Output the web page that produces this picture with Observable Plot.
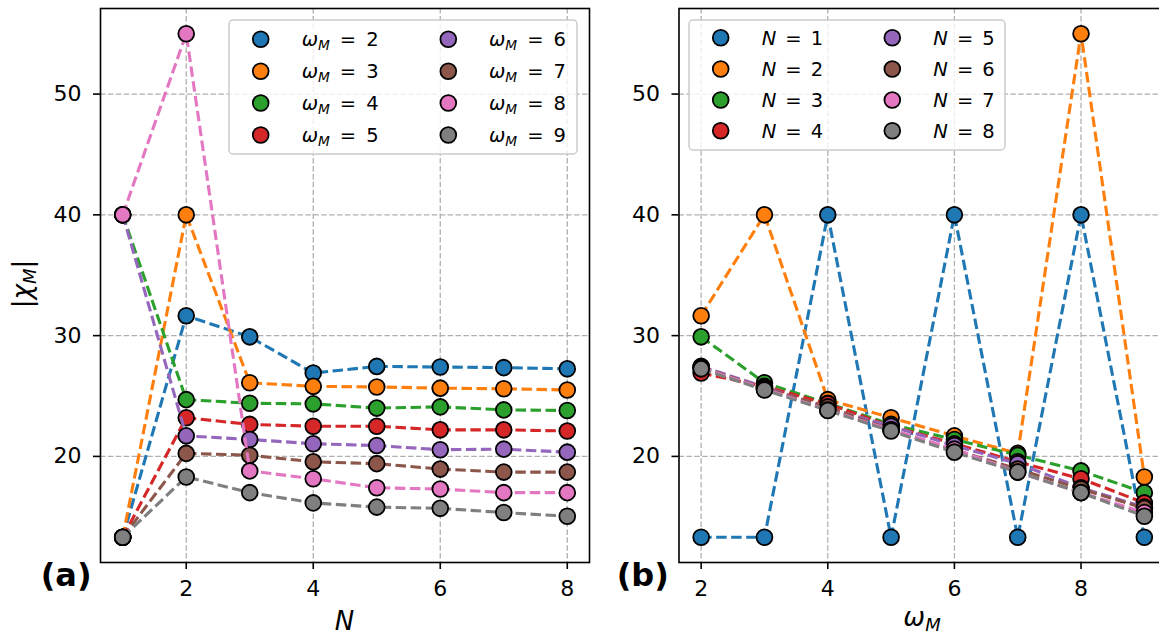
<!DOCTYPE html>
<html><head><meta charset="utf-8">
<script src="https://cdn.jsdelivr.net/npm/d3@7"></script>
<script src="https://cdn.jsdelivr.net/npm/@observablehq/plot@0.6"></script>
<style>
html,body{margin:0;padding:0;overflow:hidden;background:#fff;}
#fig{position:relative;width:1159px;height:637px;overflow:hidden;font-family:"DejaVu Sans";background:#fff;}
#fig > svg{position:absolute;top:0;}
</style></head><body><div id="fig"></div>
<script>
// ---- data ----
const N_VALUES = [1, 2, 3, 4, 5, 6, 7, 8];
const OMEGA_VALUES = [2, 3, 4, 5, 6, 7, 8, 9];
// |chi_M| for each omega_M, indexed by N = 1..8
const chi_w2 = [13.3, 31.65, 29.9, 26.9, 27.45, 27.4, 27.35, 27.25];
const chi_w3 = [13.3, 40.0, 26.1, 25.8, 25.75, 25.65, 25.6, 25.5];
const chi_w4 = [40.0, 24.7, 24.4, 24.35, 24.0, 24.1, 23.85, 23.8];
const chi_w5 = [13.3, 23.2, 22.65, 22.5, 22.5, 22.2, 22.2, 22.1];
const chi_w6 = [40.0, 21.7, 21.4, 21.05, 20.9, 20.55, 20.6, 20.35];
const chi_w7 = [13.3, 20.25, 20.1, 19.55, 19.4, 18.95, 18.7, 18.7];
const chi_w8 = [40.0, 55.0, 18.8, 18.15, 17.4, 17.3, 17.0, 17.0];
const chi_w9 = [13.3, 18.3, 17.0, 16.15, 15.8, 15.7, 15.35, 15.05];
const SERIES_COLORS = ["#1f77b4", "#ff7f0e", "#2ca02c", "#d62728", "#9467bd", "#8c564b", "#e377c2", "#7f7f7f"];
const X_TICKS = [2, 4, 6, 8];
const Y_TICKS = [20, 30, 40, 50];

const chiByOmega = [chi_w2, chi_w3, chi_w4, chi_w5, chi_w6, chi_w7, chi_w8, chi_w9];
const table = [];
OMEGA_VALUES.forEach((w, i) => N_VALUES.forEach((n, j) => table.push({omega: w, N: n, chi: chiByOmega[i][j]})));

const allChi = table.map(d => d.chi);
const yMin = d3.min(allChi), yMax = d3.max(allChi), yPad = (yMax - yMin) * 0.05;
const Y_DOMAIN = [yMin - yPad, yMax + yPad];

function panel({x, series, seriesValues, xValues, width, marginLeft, marginRight}) {
  const xPad = (d3.max(xValues) - d3.min(xValues)) * 0.05;
  const gridStyle = {stroke: "#b0b0b0", strokeOpacity: 1, strokeWidth: 1.3, strokeDasharray: "5.5,2.4"};
  const marks = [Plot.gridX(X_TICKS, gridStyle), Plot.gridY(Y_TICKS, gridStyle)];
  seriesValues.forEach((s, k) => {
    const data = table.filter(d => d[series] === s).sort((a, b) => a[x] - b[x]);
    marks.push(Plot.line(data, {x, y: "chi", stroke: SERIES_COLORS[k], strokeWidth: 3.1,
      strokeDasharray: "10.5,4.5", strokeLinecap: "butt", strokeLinejoin: "round"}));
    marks.push(Plot.dot(data, {x, y: "chi", r: 7.9, fill: SERIES_COLORS[k], stroke: "black", strokeWidth: 1.8}));
  });
  marks.push(Plot.frame({stroke: "black", strokeWidth: 1.6}));
  marks.push(Plot.axisX(X_TICKS, {tickSize: 7, tickPadding: 11, label: null, strokeWidth: 1.6, fontSize: 22}));
  marks.push(Plot.axisY(Y_TICKS, {tickSize: 7, tickPadding: 12, label: null, strokeWidth: 1.6, fontSize: 22}));
  return Plot.plot({
    width, height: 637, marginLeft, marginRight, marginTop: 8, marginBottom: 75,
    x: {domain: [d3.min(xValues) - xPad, d3.max(xValues) + xPad]},
    y: {domain: Y_DOMAIN},
    style: {fontFamily: "DejaVu Sans", fontSize: "22px", color: "black", background: "transparent", overflow: "visible"},
    marks
  });
}

const fig = document.getElementById("fig");
const left = panel({x: "N", series: "omega", seriesValues: OMEGA_VALUES, xValues: N_VALUES, width: 600, marginLeft: 100, marginRight: 11});
left.style.left = "0px";
fig.appendChild(left);
const right = panel({x: "omega", series: "N", seriesValues: N_VALUES, xValues: OMEGA_VALUES, width: 580, marginLeft: 78.5, marginRight: 14});
right.style.left = "600px";
fig.appendChild(right);

// ---- overlay: legends and labels ----
const ov = d3.select(fig).append("svg")
  .attr("width", 1159).attr("height", 637)
  .style("left", "0px").style("position", "absolute").style("top", "0px")
  .attr("font-family", "DejaVu Sans");

function legend(box, cols, rows, labelFn, values) {
  ov.append("rect").attr("x", box[0]).attr("y", box[1]).attr("width", box[2] - box[0]).attr("height", box[3] - box[1])
    .attr("rx", 4).attr("fill", "white").attr("fill-opacity", 0.8).attr("stroke", "#cccccc").attr("stroke-width", 1.5);
  values.forEach((v, k) => {
    const c = cols[Math.floor(k / 4)], ry = rows[k % 4];
    ov.append("circle").attr("cx", c[0]).attr("cy", ry).attr("r", 7.9)
      .attr("fill", SERIES_COLORS[k]).attr("stroke", "black").attr("stroke-width", 1.8);
    const t = ov.append("text").attr("x", c[1]).attr("y", ry + 7).attr("font-size", 19.5).attr("fill", "black");
    labelFn(t, v);
  });
}
legend([229, 20, 577, 154], [[260.7, 301.7], [448.3, 489]], [39.3, 71.3, 103, 135],
  (t, v) => {
    t.append("tspan").attr("font-style", "italic").text("ω");
    t.append("tspan").attr("font-style", "italic").attr("font-size", 13.7).attr("dy", 4).text("M");
    t.append("tspan").attr("dy", -4).attr("dx", 10).text("=");
    t.append("tspan").attr("dx", 10).text(v);
  }, OMEGA_VALUES);
legend([689, 20, 1005, 150], [[720.7, 761.7], [892.3, 933.3]], [37.7, 69, 100, 130.7],
  (t, v) => {
    t.append("tspan").attr("font-style", "italic").text("N");
    t.append("tspan").attr("dx", 9).text("=");
    t.append("tspan").attr("dx", 9).text(v);
  }, N_VALUES);

// axis labels
ov.append("text").attr("x", 344.5).attr("y", 630).attr("text-anchor", "middle")
  .attr("font-size", 26).attr("font-style", "italic").text("N");
const wl = ov.append("text").attr("x", 922).attr("y", 626).attr("text-anchor", "middle").attr("font-size", 26);
wl.append("tspan").attr("font-style", "italic").text("ω");
wl.append("tspan").attr("font-style", "italic").attr("font-size", 18).attr("dy", 5).text("M");
const yl = ov.append("text").attr("transform", "translate(31,284) rotate(-90)").attr("text-anchor", "middle").attr("font-size", 26);
yl.append("tspan").text("|");
yl.append("tspan").attr("font-style", "italic").text("χ");
yl.append("tspan").attr("font-style", "italic").attr("font-size", 18).attr("dy", 5).text("M");
yl.append("tspan").attr("dy", -5).text("|");

// panel tags
ov.append("text").attr("x", 40.7).attr("y", 586).attr("font-size", 32).attr("font-weight", "bold").text("(a)");
ov.append("text").attr("x", 616.7).attr("y", 586).attr("font-size", 32).attr("font-weight", "bold").text("(b)");
</script></body></html>
